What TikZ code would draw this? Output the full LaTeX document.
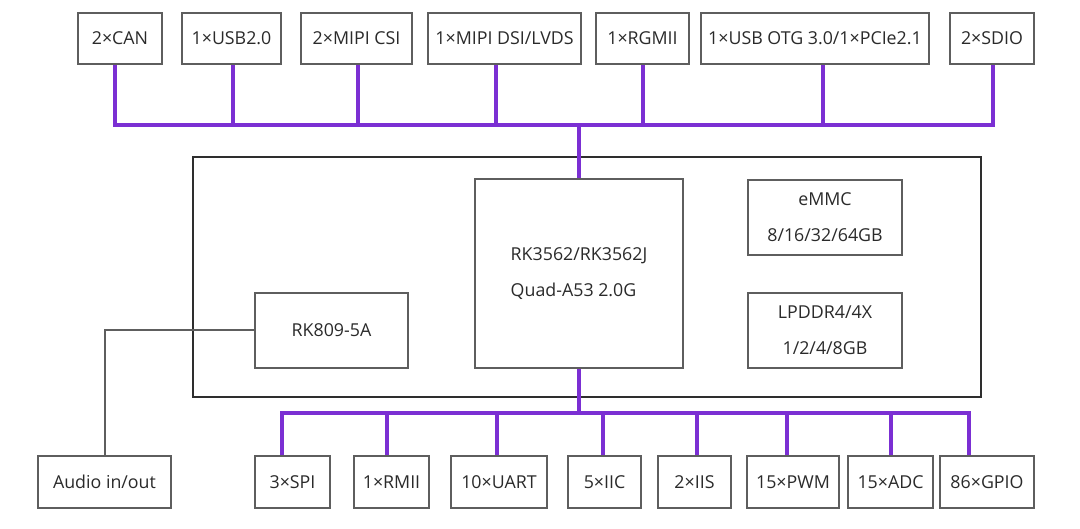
\documentclass[tikz,border=0pt]{standalone}
\usepackage{fontspec}
\setmainfont{Open Sans}
\usetikzlibrary{positioning}
\definecolor{buspurple}{HTML}{7B2FD3}
\definecolor{boxgray}{HTML}{5E5E5E}
\definecolor{framegray}{HTML}{2E2E2E}
\definecolor{txtgray}{HTML}{2A2A2A}

\begin{document}
\begin{tikzpicture}[x=1pt, y=-1pt, font=\fontsize{17.8}{36}\selectfont, text=txtgray,
  blk/.style={draw=boxgray, line width=2pt, inner sep=0pt, minimum height=51pt},
  bus/.style={draw=buspurple, line width=4pt},
  wire/.style={draw=boxgray, line width=2pt}]
  \useasboundingbox (0,0) rectangle (1080,529);

  % board frame
  \draw[draw=framegray, line width=2pt] (193,157) rectangle (981,397);

  % top interfaces
  \node[blk, minimum width=84pt]  (can)   at (120,38.5)   {2×CAN};
  \node[blk, minimum width=99pt]  (usb)   at (231.5,38.5) {1×USB2.0};
  \node[blk, minimum width=111pt] (csi)   at (356.5,38.5) {2×MIPI CSI};
  \node[blk, minimum width=153pt] (dsi)   at (504.5,38.5) {1×MIPI DSI/LVDS};
  \node[blk, minimum width=93pt]  (rgmii) at (642.5,38.5) {1×RGMII};
  \node[blk, minimum width=228pt] (otg)   at (815,38.5)   {1×USB OTG 3.0/1×PCIe2.1};
  \node[blk, minimum width=84pt]  (sdio)  at (992,38.5)   {2×SDIO};

  % core module
  \node[blk, minimum width=208pt, minimum height=189pt, align=left] (cpu) at (579,273.5)
    {RK3562/RK3562J\\Quad-A53 2.0G};
  \node[blk, minimum width=153pt, minimum height=75pt] (pmic) at (331.5,330.5) {RK809-5A};
  \node[blk, minimum width=154pt, minimum height=75pt, align=center] (emmc) at (825,217.5)
    {eMMC\\8/16/32/64GB};
  \node[blk, minimum width=154pt, minimum height=75pt, align=center] (ddr) at (825,330.5)
    {LPDDR4/4X\\1/2/4/8GB};

  % bottom interfaces
  \node[blk, minimum width=133pt] (audio) at (104.5,482) {Audio in/out};
  \node[blk, minimum width=75pt]  (spi)   at (292.5,482) {3×SPI};
  \node[blk, minimum width=75pt]  (rmii)  at (391.5,482) {1×RMII};
  \node[blk, minimum width=96pt]  (uart)  at (499,482)   {10×UART};
  \node[blk, minimum width=73pt]  (iic)   at (604.5,482) {5×IIC};
  \node[blk, minimum width=73pt]  (iis)   at (694.5,482) {2×IIS};
  \node[blk, minimum width=92pt]  (pwm)   at (793,482)   {15×PWM};
  \node[blk, minimum width=85pt]  (adc)   at (890.5,482) {15×ADC};
  \node[blk, minimum width=94pt]  (gpio)  at (987,482)   {86×GPIO};

  \coordinate (topbus) at (579,125);
  \coordinate (botbus) at (579,413);

  % buses
  \draw[bus] (cpu.north) -- (topbus);
  \draw[bus, line cap=rect] ([xshift=-5pt]can.south |- topbus) -- ([xshift=1pt]sdio.south |- topbus);
  \foreach \n/\d in {can/-5, usb/1.5, csi/1.5, dsi/-8.5, rgmii/0.5, otg/8, sdio/1}
    \draw[bus] ([xshift=\d pt]\n.south) -- ([xshift=\d pt]\n.south |- topbus);

  \draw[bus] (cpu.south) -- (botbus);
  \draw[bus, line cap=rect] ([xshift=-10.5pt]spi.north |- botbus) -- ([xshift=-18pt]gpio.north |- botbus);
  \foreach \n/\d in {spi/-10.5, rmii/-4.5, uart/-2, iic/-1.5, iis/2.5, pwm/-6, adc/0, gpio/-18}
    \draw[bus] ([xshift=\d pt]\n.north) -- ([xshift=\d pt]\n.north |- botbus);

  % audio link
  \draw[wire] (audio.north) |- (pmic.west);
\end{tikzpicture}
\end{document}
